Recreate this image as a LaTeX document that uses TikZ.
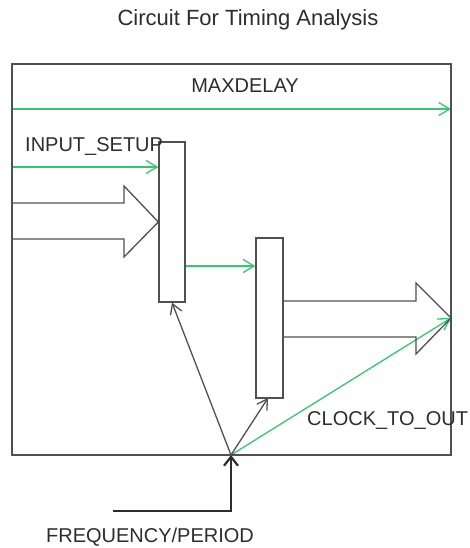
\documentclass[tikz,border=0pt]{standalone}
\usepackage{fontspec}
\setmainfont{Liberation Sans}
\usepackage{tikz}
\usetikzlibrary{arrows.meta}
\pgfdeclarelayer{bg}
\pgfsetlayers{bg,main}
\definecolor{wire}{RGB}{80,80,80}
\definecolor{grn}{RGB}{52,200,110}
\definecolor{ink}{RGB}{45,45,45}
\tikzset{
  lbl/.style={text=ink, font=\fontsize{20}{24}\selectfont, inner sep=0pt},
  block/.style={draw=wire, line width=1.3pt, fill=white, rectangle, inner sep=0pt},
  timing/.style={draw=grn, line width=1.3pt, -{Straight Barb[length=11pt,width=13pt]}},
  clkline/.style={draw=wire, line width=1.3pt, -{Straight Barb[length=10pt,width=12pt]}},
  fat/.style={draw=wire, line width=1.3pt, line join=miter},
}

\begin{document}
\begin{tikzpicture}[x=1pt, y=-1pt]
        \useasboundingbox (0,0) rectangle (470,548);
        \draw [wire, line width=1.3pt] (12,64) rectangle (451,455);
        \node (reg1) [block, minimum width=26pt, minimum height=160pt] at (172,222) {};
        \node (reg2) [block, minimum width=27pt, minimum height=160pt] at (269.5,318) {};
        \node (title) [lbl, font=\fontsize{22}{26}\selectfont] at (248,20) {Circuit For Timing Analysis};
        \node (maxdelay) [lbl] at (245,86) {MAXDELAY};
        \node (setup) [lbl, anchor=west] at (25,147) {INPUT\_SETUP};
        \node (clkout) [lbl, anchor=west] at (307,421) {CLOCK\_TO\_OUT};
        \node (freq) [lbl] at (150,537) {FREQUENCY/PERIOD};
        \coordinate (md0) at (12,109);
        \coordinate (md1) at (451,109);
        \coordinate (in0) at (12,167);
        \coordinate (in1) at (reg1.west |- in0);
        \coordinate (mid0) at (reg1.east |- 0,266);
        \coordinate (mid1) at (reg2.west |- 0,266);
        \coordinate (clk) at (231,455);
        \coordinate (out) at (451,318);
        \coordinate (src) at (113,511);
        \begin{pgfonlayer}{bg}
                \draw (md0) edge [timing] (md1);
                \draw (in0) edge [timing] (in1);
                \draw (mid0) edge [timing] (mid1);
                \draw (clk) edge [timing] (out);
                \draw (clk) edge [clkline] (reg1.south);
                \draw (clk) edge [clkline] (268,398);
                \draw [fat] (12,203) -- (124,203) -- (124,186) -- (reg1.west |- 0,222) -- (124,257) -- (124,239) -- (12,239);
                \draw [fat] (reg2.east |- 0,301) -- (416,301) -- (416,283) -- (out) -- (416,354) -- (416,337) -- (reg2.east |- 0,337);
                \draw [draw=ink, line width=2.2pt, -{Straight Barb[length=9pt,width=14pt]}] (src) -| (clk);
        \end{pgfonlayer}
\end{tikzpicture}
\end{document}
